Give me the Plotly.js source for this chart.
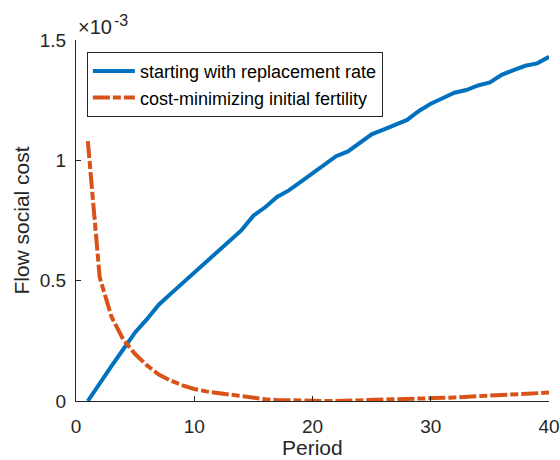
<!DOCTYPE html>
<html>
<head>
<meta charset="utf-8">
<script src="https://cdn.plot.ly/plotly-3.0.1.min.js"></script>
<style>
  html, body { margin: 0; padding: 0; background: #fff; }
  #chart { width: 560px; height: 460px; }
</style>
</head>
<body>
<div id="chart"></div>
<script>
// values are in units of 1e-3 (the axis shows the x10^-3 factor)
const periods = [];
for (let i = 1; i <= 40; i++) periods.push(i);

const replacementRate = [
  0, 0.075, 0.145, 0.215, 0.285, 0.34, 0.40, 0.445, 0.49, 0.535,
  0.58, 0.62, 0.665, 0.71, 0.77, 0.805, 0.848, 0.875, 0.91, 0.945,
  0.985, 1.017, 1.037, 1.075, 1.108, 1.128, 1.148, 1.168, 1.205, 1.235,
  1.258, 1.281, 1.292, 1.311, 1.324, 1.355, 1.375, 1.393, 1.403, 1.43
];

const costMinimizing = [
  1.08, 0.515, 0.35, 0.255, 0.195, 0.148, 0.11, 0.085, 0.065, 0.05,
  0.04, 0.033, 0.025, 0.017, 0.011, 0.007, 0.004, 0.002, 0.001, 0.001,
  0, 0, 0.001, 0.002, 0.003, 0.004, 0.005, 0.007, 0.009, 0.011,
  0.013, 0.015, 0.017, 0.019, 0.021, 0.023, 0.025, 0.028, 0.031, 0.035
];

const seriesNames = ['starting with replacement rate', 'cost-minimizing initial fertility'];
const xTicks = [0, 10, 20, 30, 40];
const yTicks = [0, 0.5, 1, 1.5];
const yTickLabels = ['0', '0.5', '1', '1.5'];

const FONT = 'Liberation Sans, Arial, Helvetica, sans-serif';
const AXIS_COLOR = '#262626';

Plotly.newPlot('chart', [
  {
    type: 'scatter', mode: 'lines',
    x: periods, y: replacementRate,
    name: seriesNames[0],
    line: { color: '#0072BD', width: 4 },
  },
  {
    type: 'scatter', mode: 'lines',
    x: periods, y: costMinimizing,
    name: seriesNames[1],
    line: { color: '#D95319', width: 4, dash: '17px,3px,8px,3px' },
  }
], {
  width: 560, height: 460,
  paper_bgcolor: '#fff',
  plot_bgcolor: '#fff',
  font: { family: FONT, color: AXIS_COLOR, size: 19 },
  margin: { l: 76, r: 11, t: 40, b: 59 },
  showlegend: true,
  legend: {
    x: 0.023, y: 0.967, xanchor: 'left', yanchor: 'top',
    bgcolor: '#fff', bordercolor: AXIS_COLOR, borderwidth: 1,
    font: { family: FONT, size: 18, color: '#000' },
    itemwidth: 42,
    tracegroupgap: 0,
  },
  xaxis: {
    range: [0, 40],
    tickvals: xTicks,
    ticks: 'inside', ticklen: 5, tickcolor: AXIS_COLOR,
    ticklabelstandoff: 8,
    showline: true, linecolor: AXIS_COLOR, linewidth: 1,
    showgrid: false, zeroline: false, mirror: false,
    tickfont: { size: 19, color: AXIS_COLOR },
  },
  yaxis: {
    range: [0, 1.5],
    tickvals: yTicks, ticktext: yTickLabels,
    ticks: 'inside', ticklen: 5, tickcolor: AXIS_COLOR,
    ticklabelstandoff: 5,
    showline: true, linecolor: AXIS_COLOR, linewidth: 1,
    showgrid: false, zeroline: false, mirror: false,
    tickfont: { size: 19, color: AXIS_COLOR },
    title: { text: 'Flow social cost', font: { size: 21, color: AXIS_COLOR }, standoff: 4 },
  },
  annotations: [
    {
      // x axis title, placed by hand so it sits close under the tick labels
      xref: 'paper', yref: 'paper', x: 0.5, y: 0,
      xanchor: 'center', yanchor: 'bottom', yshift: -59,
      borderpad: 0,
      text: 'Period', showarrow: false,
      font: { size: 21, color: AXIS_COLOR },
    },
    {
      xref: 'paper', yref: 'paper', x: 0, y: 1.0,
      xanchor: 'left', yanchor: 'bottom', yshift: 0,
      text: '×10', showarrow: false,
      font: { size: 20, color: AXIS_COLOR },
    },
    {
      xref: 'paper', yref: 'paper', x: 0.077, y: 1.0,
      xanchor: 'left', yanchor: 'bottom', yshift: 9,
      text: '-3', showarrow: false,
      font: { size: 16, color: AXIS_COLOR },
    }
  ],
}, { displayModeBar: false });
</script>
</body>
</html>
